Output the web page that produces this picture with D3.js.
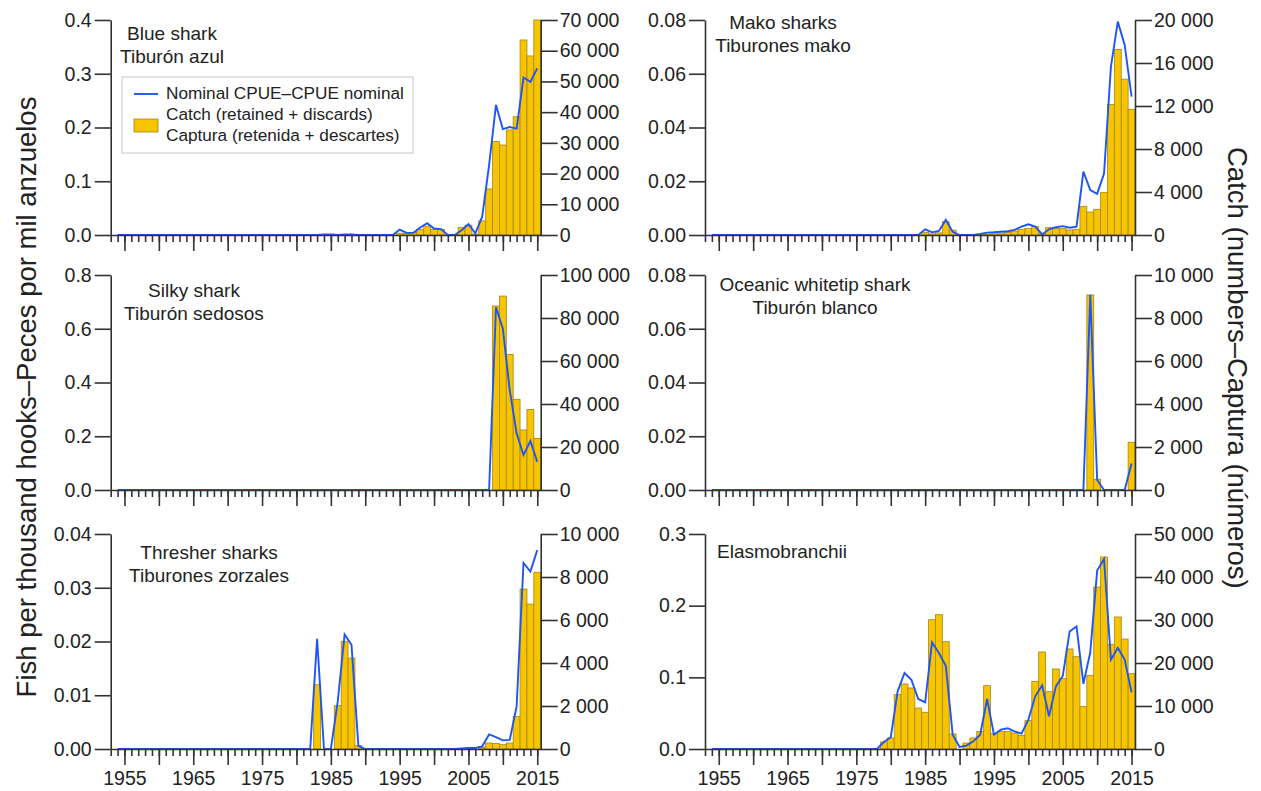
<!DOCTYPE html>
<html>
<head>
<meta charset="UTF-8">
<script src="https://cdnjs.cloudflare.com/ajax/libs/d3/7.8.5/d3.min.js"></script>
<style>
  body { margin: 0; background: #fff; }
  svg { font-family: Arial, "Liberation Sans", sans-serif; }
  .axis path, .axis line { stroke: #333; stroke-width: 1.6; }
  .axis text { fill: #222; font-size: 19.5px; }
</style>
</head>
<body>
<svg width="1261" height="791"></svg>
<script>
// years 1954-2015
const years = [1954,1955,1956,1957,1958,1959,1960,1961,1962,1963,1964,1965,1966,1967,1968,1969,
  1970,1971,1972,1973,1974,1975,1976,1977,1978,1979,1980,1981,1982,1983,1984,1985,1986,1987,1988,1989,
  1990,1991,1992,1993,1994,1995,1996,1997,1998,1999,2000,2001,2002,2003,2004,2005,2006,2007,2008,2009,
  2010,2011,2012,2013,2014,2015];
const minorTicks = [1953,1954,1955,1956,1957,1958,1959,1960,1961,1962,1963,1964,1965,1966,1967,1968,1969,
  1970,1971,1972,1973,1974,1975,1976,1977,1978,1979,1980,1981,1982,1983,1984,1985,1986,1987,1988,1989,
  1990,1991,1992,1993,1994,1995,1996,1997,1998,1999,2000,2001,2002,2003,2004,2005,2006,2007,2008,2009,
  2010,2011,2012,2013,2014,2015];
const majorTicks = [1955,1960,1965,1970,1975,1980,1985,1990,1995,2000,2005,2010,2015];
const labelTicks = [1955,1965,1975,1985,1995,2005,2015];

// Blue shark
const blueCpue = [0,0,0,0,0,0,0,0,0,0,0,0,0,0,0,0, 0,0,0,0,0,0,0,0,0,0,0,0,0,0,0.001,0.001,0,0.001,0.001,0,
  0,0,0,0,0,0.010,0.004,0.004,0.014,0.022,0.012,0.011,0,0,0.009,0.020,0.003,0.034,0.13,0.242,
  0.197,0.201,0.198,0.293,0.285,0.310];
const blueCatch = [0,0,0,0,0,0,0,0,0,0,0,0,0,0,0,0, 0,0,0,0,0,0,0,0,0,0,0,0,0,0,0,0,0,0,0,0,
  0,0,0,0,0,600,500,800,1800,2900,1800,1800,0,200,2500,3200,300,4600,15000,30400,
  29300,34200,38500,63500,58300,70000];
// Mako sharks
const makoCpue = [0,0,0,0,0,0,0,0,0,0,0,0,0,0,0,0, 0,0,0,0,0,0,0,0,0,0,0,0,0,0,0,0.0021,0.001,0.0015,0.0056,0.0012,
  0,0,0,0.0004,0.0009,0.001,0.0012,0.0014,0.0019,0.0031,0.004,0.0031,0.0002,0.0021,0.0029,0.0033,0.0027,0.0031,0.0236,0.0167,
  0.0153,0.0229,0.0626,0.0794,0.0707,0.0515];
const makoCatch = [0,0,0,0,0,0,0,0,0,0,0,0,0,0,0,0, 0,0,0,0,0,0,0,0,0,0,0,0,0,0,0,250,100,200,1240,450,
  0,0,0,50,80,100,120,250,370,530,620,775,150,680,590,590,465,530,2640,2140,
  2390,3940,12150,17270,14500,11690];
// Silky shark
const silkyCpue = [0,0,0,0,0,0,0,0,0,0,0,0,0,0,0,0, 0,0,0,0,0,0,0,0,0,0,0,0,0,0,0,0,0,0,0,0,
  0,0,0,0,0,0,0,0,0,0,0,0,0,0,0,0,0,0,0,0.68,
  0.60,0.372,0.211,0.13,0.182,0.105];
const silkyCatch = [0,0,0,0,0,0,0,0,0,0,0,0,0,0,0,0, 0,0,0,0,0,0,0,0,0,0,0,0,0,0,0,0,0,0,0,0,
  0,0,0,0,0,0,0,0,0,0,0,0,0,0,0,0,0,0,0,85600,
  90200,63100,42200,27900,37500,24000];
// Oceanic whitetip shark
const oceanicCpue = [0,0,0,0,0,0,0,0,0,0,0,0,0,0,0,0, 0,0,0,0,0,0,0,0,0,0,0,0,0,0,0,0,0,0,0,0,
  0,0,0,0,0,0,0,0,0,0,0,0,0,0,0,0,0,0,0,0.0726,
  0.0037,0,0,0,0,0.0099];
const oceanicCatch = [0,0,0,0,0,0,0,0,0,0,0,0,0,0,0,0, 0,0,0,0,0,0,0,0,0,0,0,0,0,0,0,0,0,0,0,0,
  0,0,0,0,0,0,0,0,0,0,0,0,0,0,0,0,0,0,0,9070,
  500,0,0,0,0,2220];
// Thresher sharks
const thresherCpue = [0,0,0,0,0,0,0,0,0,0,0,0,0,0,0,0, 0,0,0,0,0,0,0,0,0,0,0,0,0,0.0205,0,0,0.0088,0.0213,0.0194,0.0006,
  0,0,0,0,0,0,0,0,0,0,0,0,0,0,0.0001,0.0002,0.0002,0.0005,0.0027,0.0022,
  0.0016,0.0017,0.0079,0.0346,0.033,0.037];
const thresherCatch = [0,0,0,0,0,0,0,0,0,0,0,0,0,0,0,0, 0,0,0,0,0,0,0,0,0,0,0,0,0,2990,0,0,2015,5010,4230,155,
  0,0,0,0,0,0,0,0,0,0,0,0,0,0,0,0,0,90,280,260,
  200,280,1520,7440,6740,8220];
// Elasmobranchii
const elasmoCpue = [0,0,0,0,0,0,0,0,0,0,0,0,0,0,0,0, 0,0,0,0,0,0,0,0,0,0.0098,0.0163,0.0805,0.106,0.0967,0.0698,0.0651,0.149,0.134,0.116,0.020,
  0.003,0.0047,0.0107,0.020,0.0698,0.020,0.027,0.029,0.0247,0.0214,0.041,0.0735,0.0888,0.0456,0.0874,0.102,0.164,0.171,0.091,0.135,
  0.249,0.265,0.1247,0.141,0.1247,0.079];
const elasmoCatch = [0,0,0,0,0,0,0,0,0,0,0,0,0,0,0,0, 0,0,0,0,0,0,0,0,0,1630,2560,12640,15120,14190,9530,8530,30080,31240,24960,3490,
  0,1400,2560,4110,14730,3570,4110,4110,3720,3180,6590,15740,22560,13330,18600,16360,23260,21470,9920,17130,
  37670,44650,24340,30700,25580,17520];

const panels = [
  {col: 0, row: 0, title: ["Blue shark", "Tiburón azul"], tx: 172, ty: 40, anchor: "middle",
   cpue: blueCpue, catchN: blueCatch, lMax: 0.4, lTicks: [0,0.1,0.2,0.3,0.4], lFmt: ".1f",
   rMax: 70000, rTicks: [0,10000,20000,30000,40000,50000,60000,70000]},
  {col: 1, row: 0, title: ["Mako sharks", "Tiburones mako"], tx: 783, ty: 29, anchor: "middle",
   cpue: makoCpue, catchN: makoCatch, lMax: 0.08, lTicks: [0,0.02,0.04,0.06,0.08], lFmt: ".2f",
   rMax: 20000, rTicks: [0,4000,8000,12000,16000,20000]},
  {col: 0, row: 1, title: ["Silky shark", "Tiburón sedosos"], tx: 194, ty: 297, anchor: "middle",
   cpue: silkyCpue, catchN: silkyCatch, lMax: 0.8, lTicks: [0,0.2,0.4,0.6,0.8], lFmt: ".1f",
   rMax: 100000, rTicks: [0,20000,40000,60000,80000,100000]},
  {col: 1, row: 1, title: ["Oceanic whitetip shark", "Tiburón blanco"], tx: 815, ty: 291, anchor: "middle",
   cpue: oceanicCpue, catchN: oceanicCatch, lMax: 0.08, lTicks: [0,0.02,0.04,0.06,0.08], lFmt: ".2f",
   rMax: 10000, rTicks: [0,2000,4000,6000,8000,10000]},
  {col: 0, row: 2, title: ["Thresher sharks", "Tiburones zorzales"], tx: 209, ty: 559, anchor: "middle",
   cpue: thresherCpue, catchN: thresherCatch, lMax: 0.04, lTicks: [0,0.01,0.02,0.03,0.04], lFmt: ".2f",
   rMax: 10000, rTicks: [0,2000,4000,6000,8000,10000]},
  {col: 1, row: 2, title: ["Elasmobranchii"], tx: 717, ty: 558, anchor: "start",
   cpue: elasmoCpue, catchN: elasmoCatch, lMax: 0.3, lTicks: [0,0.1,0.2,0.3], lFmt: ".1f",
   rMax: 50000, rTicks: [0,10000,20000,30000,40000,50000]}
];

const colX = [110.7, 705];
const rowY = [20, 275, 534];
const pw = 430, ph = 215;

const svg = d3.select("svg");
const thousands = d3.formatLocale({decimal: ".", thousands: " ", grouping: [3], currency: ["", ""]}).format(",");

panels.forEach(p => {
  const g = svg.append("g").attr("transform", `translate(${colX[p.col]},${rowY[p.row]})`);
  const x = d3.scaleLinear().domain([1953, 2015.5]).range([0, pw]);
  const yL = d3.scaleLinear().domain([0, p.lMax]).range([ph, 0]);
  const yR = d3.scaleLinear().domain([0, p.rMax]).range([ph, 0]);
  const rows = years.map((yr, i) => ({yr, c: p.cpue[i], n: p.catchN[i]}));

  // bars (catch)
  g.selectAll("rect.bar")
    .data(rows.filter(d => d.n > 0))
    .join("rect")
    .attr("class", "bar")
    .attr("x", d => x(d.yr - 0.5))
    .attr("width", d => Math.min(x(d.yr + 0.5), pw) - x(d.yr - 0.5))
    .attr("y", d => yR(d.n))
    .attr("height", d => ph - yR(d.n))
    .attr("fill", "#f7c400")
    .attr("stroke", "#a58712")
    .attr("stroke-width", 0.8);

  // nominal CPUE line
  g.append("path")
    .datum(rows)
    .attr("fill", "none")
    .attr("stroke", "#1f55f5")
    .attr("stroke-width", 1.9)
    .attr("d", d3.line().x(d => x(d.yr)).y(d => yL(d.c)));

  // axes
  g.append("g").attr("class", "axis")
    .call(d3.axisLeft(yL).tickValues(p.lTicks).tickFormat(d3.format(p.lFmt)).tickSize(16).tickSizeOuter(0).tickPadding(3));
  g.append("g").attr("class", "axis").attr("transform", `translate(${pw},0)`)
    .call(d3.axisRight(yR).tickValues(p.rTicks).tickFormat(thousands).tickSize(17).tickSizeOuter(0).tickPadding(2));
  g.append("g").attr("class", "axis").attr("transform", `translate(0,${ph})`)
    .call(d3.axisBottom(x).tickValues(minorTicks).tickFormat("").tickSize(7).tickSizeOuter(0));
  const maj = g.append("g").attr("class", "axis").attr("transform", `translate(0,${ph})`)
    .call(d3.axisBottom(x).tickValues(majorTicks).tickSize(16).tickSizeOuter(0).tickPadding(6)
      .tickFormat(d => (p.row === 2 && labelTicks.includes(d)) ? String(d) : ""));
  maj.select(".domain").remove();

  // panel title
  const t = svg.append("text")
    .attr("x", p.tx).attr("y", p.ty)
    .attr("text-anchor", p.anchor)
    .attr("font-size", 19).attr("fill", "#222");
  p.title.forEach((s, i) => t.append("tspan").attr("x", p.tx).attr("dy", i === 0 ? 0 : 22.5).text(s));
});

// legend (blue shark panel)
const lg = svg.append("g").attr("transform", "translate(122,77)");
lg.append("rect").attr("width", 291).attr("height", 76).attr("fill", "#fff").attr("stroke", "#c8c8c8").attr("stroke-width", 1);
lg.append("line").attr("x1", 12).attr("x2", 36).attr("y1", 17).attr("y2", 17).attr("stroke", "#1f55f5").attr("stroke-width", 1.9);
lg.append("rect").attr("x", 12).attr("y", 42).attr("width", 24).attr("height", 13)
  .attr("fill", "#f7c400").attr("stroke", "#a58712").attr("stroke-width", 0.8);
const legendText = ["Nominal CPUE–CPUE nominal", "Catch (retained + discards)", "Captura (retenida + descartes)"];
lg.selectAll("text.lt").data(legendText).join("text")
  .attr("x", 44).attr("y", (d, i) => 22 + i * 21)
  .attr("font-size", 17.2).attr("fill", "#222").text(d => d);

// axis titles
svg.append("text")
  .attr("transform", "translate(36,397) rotate(-90)")
  .attr("text-anchor", "middle").attr("font-size", 27.5).attr("fill", "#222")
  .text("Fish per thousand hooks–Peces por mil anzuelos");
svg.append("text")
  .attr("transform", "translate(1228,147) rotate(90)")
  .attr("text-anchor", "start").attr("font-size", 27.5).attr("fill", "#222")
  .text("Catch (numbers–Captura (números)");
</script>
</body>
</html>
